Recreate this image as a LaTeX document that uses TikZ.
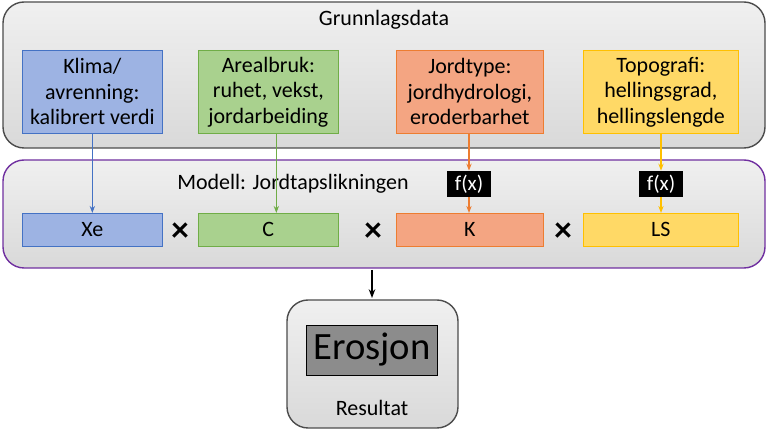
\documentclass[tikz,border=0pt]{standalone}
\usepackage{fontspec}
\setmainfont{Carlito}
\usetikzlibrary{arrows.meta,positioning,calc}
\definecolor{bluefill}{HTML}{9DB3E3}
\definecolor{blueline}{HTML}{4472C4}
\definecolor{greenfill}{HTML}{A9D18E}
\definecolor{greenline}{HTML}{70AD47}
\definecolor{orangefill}{HTML}{F4A582}
\definecolor{orangeline}{HTML}{ED7D31}
\definecolor{yellowfill}{HTML}{FFD966}
\definecolor{yellowline}{HTML}{FFC000}
\definecolor{panelfill}{HTML}{D9D9D9}
\definecolor{purpleline}{HTML}{7030A0}
\tikzset{
  panel/.style={draw=#1, rounded corners=12pt, top color=white!60!panelfill, bottom color=panelfill, line width=0.8pt},
  factor/.style={draw=#1line, fill=#1fill, anchor=north west, font=\fontsize{12.5}{14.5}\selectfont, align=center, inner sep=2pt},
  func/.style={fill=black, text=white, font=\fontsize{12}{13}\selectfont, minimum width=0.88cm, minimum height=0.52cm, inner sep=0pt},
  times/.style={font=\fontsize{20}{20}\selectfont\bfseries},
  link/.style={-{Stealth[length=4pt]}, draw=#1, line width=0.8pt}
}
\begin{document}
\begin{tikzpicture}[x=0.02cm, y=-0.02cm]
  \useasboundingbox (0,0) rectangle (768,431);

  % panels
  \draw[panel=black!70] (3,2) rectangle (765,148);
  \node (grunn) at (384,20) {\fontsize{12.5}{14}\selectfont Grunnlagsdata};
  \draw[panel=purpleline] (3,160) rectangle (765,268);
  \node (modell) at (293,184) {\fontsize{12.5}{14}\selectfont Modell: Jordtapslikningen};
  \draw[panel=black!70] (287,300) rectangle (458,428);

  % input data
  \node[factor=blue, minimum width=2.8cm, minimum height=1.66cm] (klima) at (22,50) {Klima/\\avrenning:\\kalibrert verdi};
  \node[factor=green, minimum width=2.8cm, minimum height=1.66cm] (areal) at (198,50) {Arealbruk:\\ruhet, vekst,\\jordarbeiding};
  \node[factor=orange, minimum width=2.94cm, minimum height=1.66cm] (jord) at (396,50) {Jordtype:\\jordhydrologi,\\eroderbarhet};
  \node[factor=yellow, minimum width=3.1cm, minimum height=1.66cm] (topo) at (583,50) {Topografi:\\hellingsgrad,\\hellingslengde};

  % model factors
  \node[factor=blue, minimum width=2.8cm, minimum height=0.66cm] (xe) at (22,213) {Xe};
  \node[factor=green, minimum width=2.8cm, minimum height=0.66cm] (c) at (198,213) {C};
  \node[factor=orange, minimum width=2.94cm, minimum height=0.66cm] (k) at (396,213) {K};
  \node[factor=yellow, minimum width=3.1cm, minimum height=0.66cm] (ls) at (583,213) {LS};
  \node[times] (x1) at (180,232) {×};
  \node[times] (x2) at (373,232) {×};
  \node[times] (x3) at (563,232) {×};

  \node[func] (fk) at (469,184) {f(x)};
  \node[func] (fls) at (661,184) {f(x)};

  % links
  \draw[link=blueline] (klima.south -| xe.north) -- (xe.north);
  \draw[link=greenline] ($(areal.south)+(8,0)$) -- ($(c.north)+(8,0)$);
  \draw[link=orangeline] (jord.south -| fk.north) -- (fk.north);
  \draw[link=orangeline] (fk.south) -- (fk.south |- k.north);
  \draw[link=yellowline] (topo.south -| fls.north) -- (fls.north);
  \draw[link=yellowline] (fls.south) -- (fls.south |- ls.north);

  % result
  \node[draw=black, fill=black!45, minimum width=2.62cm, minimum height=1cm, font=\fontsize{22}{24}\selectfont] (eros) at (372,350) {Erosjon};
  \node (result) at (372,408) {\fontsize{12.5}{14}\selectfont Resultat};
  \coordinate (mid) at (372,270);
  \draw[-{Stealth[length=5pt]}, line width=0.8pt] (mid) -- (372,298);
\end{tikzpicture}
\end{document}
